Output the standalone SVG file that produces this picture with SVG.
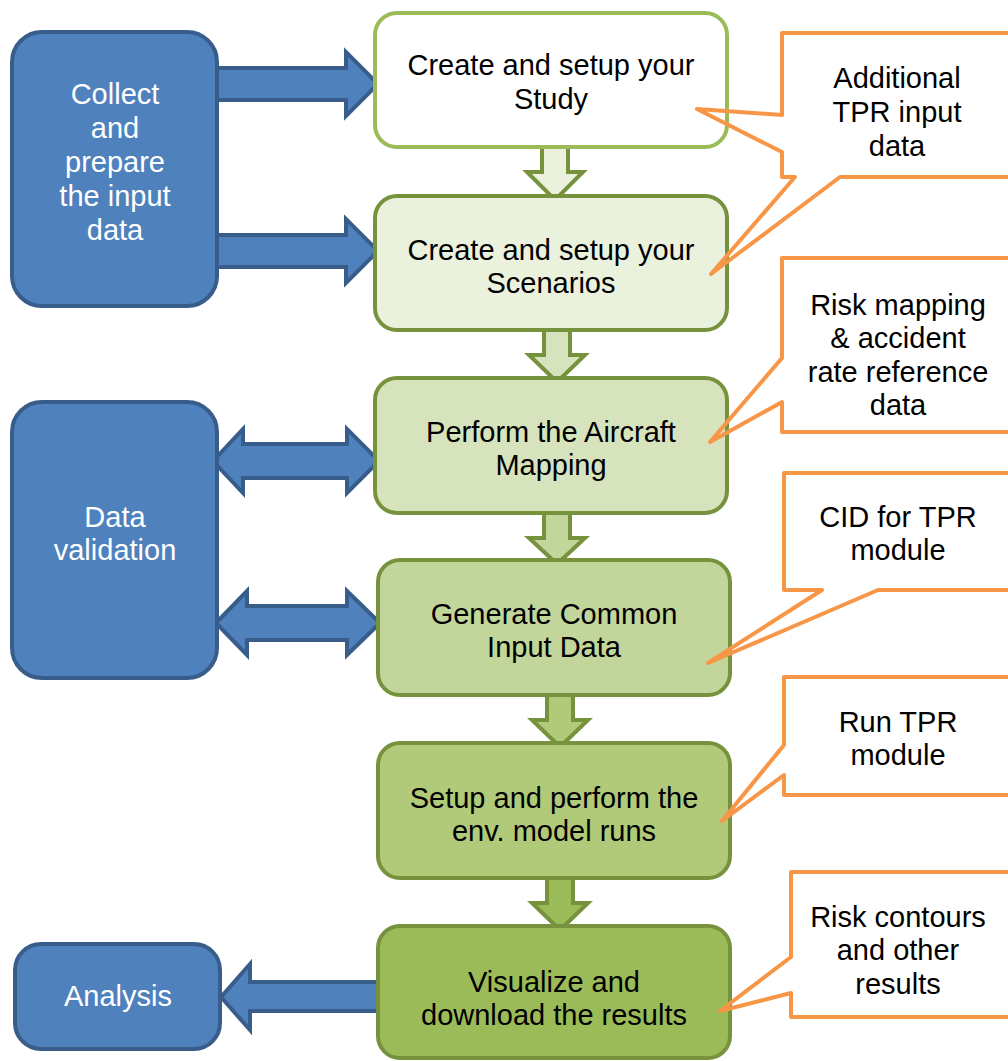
<svg xmlns="http://www.w3.org/2000/svg" width="1008" height="1061" viewBox="0 0 1008 1061">
  <style>
    .t { font-family: "Liberation Sans", Arial, sans-serif; font-size: 29px; text-anchor: middle; fill: #000; }
    .w { fill: #fff; }
    .blue { fill: #4F81BD; stroke: #385D8A; stroke-width: 4; }
    .barrow { fill: #4F81BD; stroke: #385D8A; stroke-width: 4; stroke-linejoin: miter; }
    .garrow { stroke: #76923C; stroke-width: 4; stroke-linejoin: miter; }
    .step { stroke: #76923C; stroke-width: 4; }
    .note { fill: none; stroke: #F79646; stroke-width: 4; stroke-linejoin: round; }
  </style>
  <rect width="1008" height="1061" fill="#fff"/>

  <!-- connectors: block arrows -->
  <g id="connectors">
    <!-- collect -> study / scenarios -->
    <path class="barrow" d="M205,68 H346 V52 L378,84 L346,116 V100 H205 Z"/>
    <path class="barrow" d="M205,235 H346 V219 L378,251 L346,283 V267 H205 Z"/>
    <!-- data validation <-> aircraft mapping -->
    <path class="barrow" d="M213,461 L243,429 V444 H347 V429 L379,461 L347,493 V478 H243 V493 Z"/>
    <!-- data validation <-> common input data -->
    <path class="barrow" d="M216,623 L247,591 V606 H347 V591 L380,623 L347,655 V640 H247 V655 Z"/>
    <!-- results -> analysis -->
    <path class="barrow" d="M221,997 L250,964 V982 H385 V1011 H250 V1030 Z"/>
    <!-- step-to-step arrows -->
    <path class="garrow" fill="#EAF1DD" d="M542,144 H568 V172 H583 L555,200 L527,172 H542 Z"/>
    <path class="garrow" fill="#D6E3BC" d="M544,327 H570 V355 H585 L557,382 L529,355 H544 Z"/>
    <path class="garrow" fill="#C2D69B" d="M544,510 H570 V538 H585 L557,564 L529,538 H544 Z"/>
    <path class="garrow" fill="#B0CA7A" d="M547,692 H573 V720 H588 L560,747 L532,720 H547 Z"/>
    <path class="garrow" fill="#9BBB59" d="M547,875 H573 V903 H588 L560,930 L532,903 H547 Z"/>
  </g>

  <!-- left-hand blue boxes -->
  <g id="collect">
    <rect class="blue" x="12" y="32" width="205" height="274" rx="30"/>
    <text class="t w" x="115" y="104">Collect</text>
    <text class="t w" x="115" y="138">and</text>
    <text class="t w" x="115" y="172">prepare</text>
    <text class="t w" x="115" y="206">the input</text>
    <text class="t w" x="115" y="240">data</text>
  </g>
  <g id="validation">
    <rect class="blue" x="12" y="402" width="205" height="276" rx="30"/>
    <text class="t w" x="115" y="527">Data</text>
    <text class="t w" x="115" y="560">validation</text>
  </g>
  <g id="analysis">
    <rect class="blue" x="15" y="944" width="205" height="105" rx="26"/>
    <text class="t w" x="118" y="1006">Analysis</text>
  </g>

  <!-- main process steps -->
  <g id="study">
    <rect x="375" y="13" width="352" height="134" rx="22" fill="#fff" stroke="#9BBB59" stroke-width="4"/>
    <text class="t" x="551" y="75">Create and setup your</text>
    <text class="t" x="551" y="109">Study</text>
  </g>
  <g id="scenarios">
    <rect class="step" x="375" y="196" width="352" height="134" rx="22" fill="#EAF1DD"/>
    <text class="t" x="551" y="260">Create and setup your</text>
    <text class="t" x="551" y="293">Scenarios</text>
  </g>
  <g id="mapping">
    <rect class="step" x="375" y="378" width="352" height="135" rx="22" fill="#D6E3BC"/>
    <text class="t" x="551" y="442">Perform the Aircraft</text>
    <text class="t" x="551" y="475">Mapping</text>
  </g>
  <g id="cid">
    <rect class="step" x="378" y="560" width="352" height="135" rx="22" fill="#C2D69B"/>
    <text class="t" x="554" y="624">Generate Common</text>
    <text class="t" x="554" y="657">Input Data</text>
  </g>
  <g id="env-runs">
    <rect class="step" x="378" y="743" width="352" height="135" rx="22" fill="#B0CA7A"/>
    <text class="t" x="554" y="808">Setup and perform the</text>
    <text class="t" x="554" y="841">env. model runs</text>
  </g>
  <g id="results">
    <rect class="step" x="378" y="926" width="352" height="132" rx="22" fill="#9BBB59"/>
    <text class="t" x="554" y="992">Visualize and</text>
    <text class="t" x="554" y="1025">download the results</text>
  </g>

  <!-- orange callouts -->
  <g id="note-tpr-input">
    <path class="note" d="M782,33 H1035 V177 H840 L711,274 L795,177 H782 V152 L697,109 L782,115 Z"/>
    <text class="t" x="897" y="88">Additional</text>
    <text class="t" x="897" y="122">TPR input</text>
    <text class="t" x="897" y="156">data</text>
  </g>
  <g id="note-risk-mapping">
    <path class="note" d="M782,258 H1035 V432 H782 V402 L710,442 L782,358 Z"/>
    <text class="t" x="898" y="315">Risk mapping</text>
    <text class="t" x="898" y="348">&amp; accident</text>
    <text class="t" x="898" y="382">rate reference</text>
    <text class="t" x="898" y="415">data</text>
  </g>
  <g id="note-cid">
    <path class="note" d="M784,473 H1035 V590 H878 L708,663 L822,590 H784 Z"/>
    <text class="t" x="898" y="527">CID for TPR</text>
    <text class="t" x="898" y="560">module</text>
  </g>
  <g id="note-run-tpr">
    <path class="note" d="M784,677 H1035 V795 H784 V775 L722,821 L784,745 Z"/>
    <text class="t" x="898" y="732">Run TPR</text>
    <text class="t" x="898" y="765">module</text>
  </g>
  <g id="note-contours">
    <path class="note" d="M791,872 H1035 V1017 H791 V993 L720,1011 L791,957 Z"/>
    <text class="t" x="898" y="927">Risk contours</text>
    <text class="t" x="898" y="960">and other</text>
    <text class="t" x="898" y="994">results</text>
  </g>
</svg>
